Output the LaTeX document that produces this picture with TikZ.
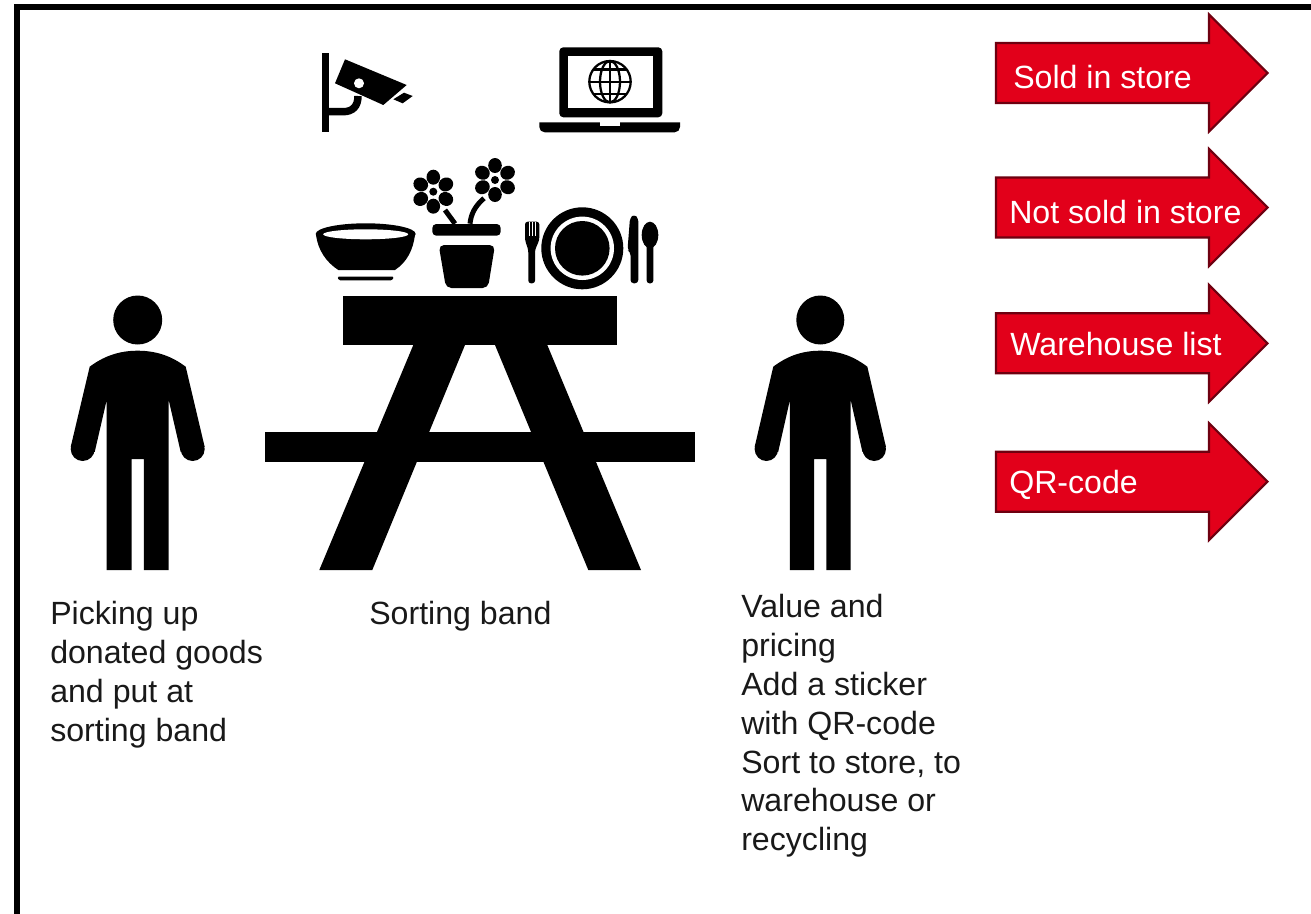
\documentclass[tikz,border=0pt]{standalone}
\usepackage{fontspec}
\setmainfont{Liberation Sans}
\definecolor{redfill}{HTML}{E2001A}
\definecolor{redline}{HTML}{6E0010}
\tikzset{
  x=0.75pt,y=-0.75pt,
  ink/.style={fill=black,draw=none},
  paper/.style={fill=white,draw=none},
  stemline/.style={draw=black,line width=3.75pt,line cap=round,fill=none},
  thinline/.style={draw=black,line width=1.7pt,fill=none},
  arrowshape/.style={fill=redfill,draw=redline,line width=1.6pt,line join=miter},
  arrowtext/.style={anchor=base west,inner sep=0pt,text=white,font=\fontsize{24.1}{28}\selectfont},
  caption/.style={anchor=north west,inner sep=0pt,align=left,text=black!90,font=\fontsize{24.1}{29.15}\selectfont},
  pics/person/.style={code={
    \fill (0,0) circle (24.5);
    \fill (-55,129) circle (12);
    \fill (55,129) circle (12);
    \fill (0,30.7) .. controls (-20,30.7) and (-35,37) .. (-48,46.7)
      -- (-67,127) -- (-43,132) -- (-31,80) -- (-31,250) -- (-6.2,250) -- (-6.2,139)
      -- (6.2,139) -- (6.2,250) -- (31,250) -- (31,80) -- (43,132) -- (67,127)
      -- (48,46.7) .. controls (35,37) and (20,30.7) .. (0,30.7) -- cycle;
  }},
  pics/flower/.style={code={
    \foreach \a in {30,90,150,210,270,330}{
      \fill[rotate=\a] (14.5,0) ellipse (7.5 and 6.8);
    }
    \fill[paper] (0,0) circle (5.2);
    \fill (0,0) circle (4);
  }},
  pics/redarrow/.style={code={
    \draw[arrowshape] (996,-30) -- (1209,-30) -- (1209,-58.5) -- (1267.5,0) -- (1209,58.5) -- (1209,30) -- (996,30) -- cycle;
  }}
}
\begin{document}
\begin{tikzpicture}
\useasboundingbox (0,0) rectangle (1311,914);
\fill[white] (0,0) rectangle (1311,914);
% frame
\fill[black] (14,4) rectangle (1311,10);
\fill[black] (14,4) rectangle (20,914);

% persons
\pic at (137.7,320) {person};
\pic[xscale=.98] at (820.3,320) {person};

% table
\fill (343,295.7) rectangle (617.3,345);
\fill (265,432) rectangle (695,461.7);
\fill (319.3,570) -- (413.3,345) -- (465,345) -- (372.3,570) -- cycle;
\fill (495,345) -- (547.3,345) -- (641,570) -- (588.3,570) -- cycle;

% camera
\fill (321.7,52.7) rectangle (329,132.3);
\fill (345,59.3) -- (406.7,85) -- (383.3,105) -- (335,83.3) -- cycle;
\fill[paper] (359,83.3) circle (5);
\fill (393.3,99.3) -- (404,92.7) -- (412.7,96) -- (402.7,103.3) -- cycle;
\draw[black,line width=5.6pt] (329,111.7) -- (343,111.7) .. controls (353,111.7) and (358,106) .. (358,96);

% laptop
\fill[rounded corners=3pt] (559.3,117.3) -- (559.3,47.3) -- (662.3,47.3) -- (662.3,117.3) -- cycle;
\fill[paper] (568.3,56) rectangle (653.3,108.3);
\fill (539.3,122.3) -- (680,122.3) -- (680,126) [rounded corners=4pt] -- (680,132.3) -- (539.3,132.3) [sharp corners] -- (539.3,122.3) -- cycle;
\fill[paper] (600,122) rectangle (620,125.7);
\draw[thinline] (610,81.7) circle (20.7);
\draw[thinline] (610,81.7) ellipse (10 and 20.7);
\draw[thinline] (610,61) -- (610,102.4);
\draw[thinline] (589.3,81.7) -- (630.7,81.7);
\draw[thinline] (593.5,69.4) -- (626.5,69.4);
\draw[thinline] (593.5,94) -- (626.5,94);

% bowl
\fill (316,235) .. controls (318,250) and (326,262) .. (338.3,270) -- (395,270) .. controls (407,262) and (413,250) .. (415,235) -- cycle;
\fill (365.7,234) ellipse (50 and 10.7);
\fill[paper] (365.7,234.3) ellipse (42.5 and 5);
\fill[rounded corners=1pt] (337.3,276.7) -- (394,276.7) -- (392,280.4) -- (339,280.4) -- cycle;

% plant
\pic at (433.3,191.7) {flower};
\pic at (495,180) {flower};
\draw[stemline,line cap=butt] (445,210) -- (455,223.7);
\draw[stemline,line cap=butt] (484,198.3) .. controls (475,206) and (471,214) .. (470,223.7);
\fill[rounded corners=3pt] (432.3,235.7) -- (432.3,224) -- (500.7,224) -- (500.7,235.7) -- cycle;
\fill[rounded corners=4pt] (438.7,245) -- (495,245) -- (488,288) -- (446,288) -- cycle;

% cutlery
\fill[rounded corners=2pt] (525,221.7) -- (539.3,221.7) -- (539.3,240) -- (535,250) -- (535,283.3) -- (528.3,283.3) -- (528.3,250) -- (525,240) -- cycle;
\draw[white,line width=.25pt] (529.5,222) -- (529.5,236) (532.2,222) -- (532.2,236) (534.9,222) -- (534.9,236);
\fill (582.3,248.3) circle (41);
\fill[paper] (582.3,248.3) circle (31.7);
\fill (582.3,248.3) circle (27.3);
\fill[rounded corners=2.5pt] (634,214.3) -- (638.3,218) -- (638.3,283.3) -- (630.5,283.3) -- (630.5,252) -- (627.5,250) -- (630,218) -- cycle;
\fill (650,235) ellipse (8.3 and 13.3);
\fill[rounded corners=2pt] (646.7,240) -- (653.3,240) -- (653.3,283.3) -- (646.7,283.3) -- cycle;

% arrows
\pic at (0,73) {redarrow};
\pic at (0,207.5) {redarrow};
\pic at (0,343.3) {redarrow};
\pic at (0,481.7) {redarrow};
\node[arrowtext] (a1) at (1013,88) {Sold in store};
\node[arrowtext] (a2) at (1009,223) {Not sold in store};
\node[arrowtext] (a3) at (1010,355) {Warehouse list};
\node[arrowtext] (a4) at (1009,493.3) {QR-code};

% captions
\node[caption] (t1) at (50,601) {Picking up\\donated goods\\and put at\\sorting band};
\node[caption] (t2) at (369,601) {Sorting band};
\node[caption] (t3) at (741,594) {Value and\\pricing\\Add a sticker\\with QR-code\\Sort to store, to\\warehouse or\\recycling};
\end{tikzpicture}
\end{document}
